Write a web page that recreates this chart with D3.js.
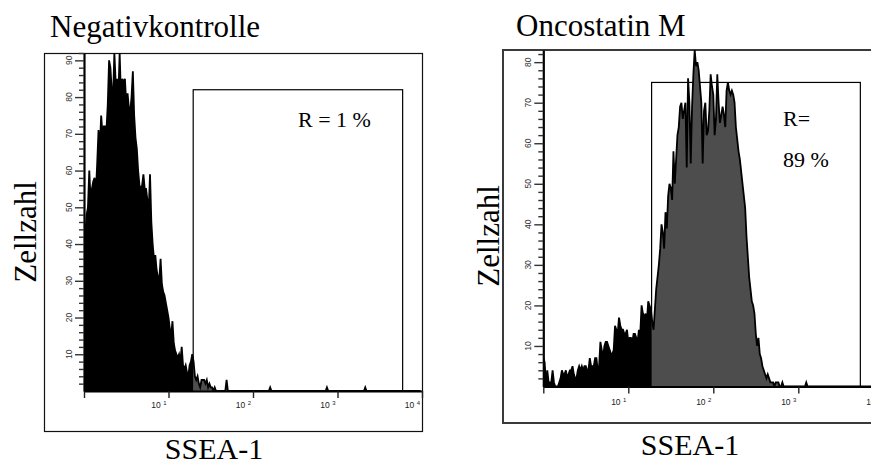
<!DOCTYPE html>
<html>
<head>
<meta charset="utf-8">
<script src="https://cdn.jsdelivr.net/npm/d3@7"></script>
<style>
body { margin: 0; background: #fff; }
svg { display: block; }
</style>
</head>
<body>
<svg id="chart" width="871" height="465"></svg>
<script>
var titles = ["Negativkontrolle", "Oncostatin M"]
var xTitle = "SSEA-1"
var yTitle = "Zellzahl"
var decadeLabels = [[10, "1"], [100, "2"], [1000, "3"], [10000, "4"]]
var channelsPerDecade = 64,
decades = 4

// Negativkontrolle: counts from channel 0 on, and single events further right
var negCounts = [45,43,48,50,60,52,55,57,58,54,
62,71,66,75,70,72,72,71,78,90,
88,82,80,92,84,85,80,92,80,85,
84,85,78,81,77,76,80,87,75,69,
66,60,56,55,56,59,55,55,52,49,
59,46,40,36,37,33,31,30,36,29,
27,26,24,22,20,17,15,19,13,11,
10,9,10,8,12,7,6,7,5,4,
7,8,10,8,4,3,4,2,1,3,
3,3,2,3,1,2,1,1,0,1,0]
var negSpikes = [[108, 3], [141, 1], [184, 1], [213, 1]]
var negGate = [19.6, 5900, 82]
var negLabel = ["R = 1 %"]

// Oncostatin M
var oncoCounts = [7,6,1,4,1,1,1,4,1,0,
0,0,1,2,4,3,3,4,2,3,
4,4,5,3,2,2,4,5,4,5,
4,5,5,4,4,7,5,5,5,7,
7,4,5,11,9,7,10,11,11,10,
9,8,8,9,15,14,13,17,15,14,
14,13,13,14,11,12,12,11,13,13,
12,11,14,13,20,18,17,18,16,21,
20,19,16,14,19,24,27,30,34,40,
38,34,43,39,47,50,49,46,58,50,
56,62,64,69,70,66,68,70,54,76,
70,55,69,77,83,79,80,78,74,70,
55,68,70,62,63,68,77,74,72,62,
66,77,70,65,67,69,67,64,73,75,
73,72,73,72,70,64,61,58,56,53,
50,47,44,37,32,27,24,21,20,18,
13,10,12,8,7,5,4,3,2,3,
2,1,1,1,0,1,1,1,0,0,1,0]
var oncoSpikes = [[198, 1]]
var oncoGate = [18.8, 5370, 75]
var oncoLabel = ["R=", "89 %"]

var panels = [
  {counts: negCounts, spikes: negSpikes, gate: negGate, label: negLabel, yMax: 92,
   frame: [44.5, 53.5, 378, 378], frameStroke: "#111", frameWidth: 1.2,
   left: 84, right: 422, bottom: 391, top: 53, tickY: 408,
   titlePos: [50, 36.5], xTitlePos: [214, 459], yTitlePos: [36, 232], labelPos: [298, 127]},
  {counts: oncoCounts, spikes: oncoSpikes, gate: oncoGate, label: oncoLabel, yMax: 83,
   frame: [503, 50, 400, 373], frameStroke: "#3a3a3a", frameWidth: 2,
   left: 543.3, right: 883.3, bottom: 386.5, top: 50, tickY: 405,
   titlePos: [516, 36], xTitlePos: [690, 455], yTitlePos: [499, 236], labelPos: [783, 126]}
]

var svg = d3.select("#chart")
var defs = svg.append("defs")

function chanValue(c){ return Math.pow(10, c / channelsPerDecade) }

panels.forEach(function(p, i){
  var x = d3.scaleLog().domain([1, Math.pow(10, decades)]).range([p.left, p.right])
  var y = d3.scaleLinear().domain([0, p.yMax]).range([p.bottom, p.top])

  var n = d3.range(decades * channelsPerDecade).map(function(c){
    return c < p.counts.length ? p.counts[c] : 0
  })
  p.spikes.forEach(function(s){ n[s[0]] = s[1] })
  var pts = n.map(function(v, c){ return {c: c, n: v} })

  var g = svg.append("g")

  g.append("rect")
  .attr("x", p.frame[0]).attr("y", p.frame[1])
  .attr("width", p.frame[2]).attr("height", p.frame[3])
  .attr("fill", "none")
  .attr("stroke", p.frameStroke)
  .attr("stroke-width", p.frameWidth)

  // gate region, behind the histogram
  g.append("rect")
  .attr("x", x(p.gate[0]))
  .attr("y", y(p.gate[2]))
  .attr("width", x(p.gate[1]) - x(p.gate[0]))
  .attr("height", y(0) - y(p.gate[2]))
  .attr("fill", "none")
  .attr("stroke", "#000")
  .attr("stroke-width", 1.2)

  defs.append("clipPath").attr("id", "out" + i)
  .append("rect")
  .attr("x", p.left).attr("y", p.top)
  .attr("width", x(p.gate[0]) - p.left).attr("height", p.bottom - p.top)
  defs.append("clipPath").attr("id", "in" + i)
  .append("rect")
  .attr("x", x(p.gate[0])).attr("y", p.top)
  .attr("width", p.right - x(p.gate[0])).attr("height", p.bottom - p.top)
  defs.append("clipPath").attr("id", "plot" + i)
  .append("rect")
  .attr("x", p.left).attr("y", p.top)
  .attr("width", p.right - p.left).attr("height", p.bottom - p.top + 1)

  var area = d3.area()
  .x(function(d){ return x(chanValue(d.c)) })
  .y0(y(0))
  .y1(function(d){ return y(d.n) })

  var line = d3.line()
  .x(function(d){ return x(chanValue(d.c)) })
  .y(function(d){ return y(d.n) })

  g.append("path").attr("d", area(pts)).attr("fill", "#000").attr("clip-path", "url(#out" + i + ")")
  g.append("path").attr("d", area(pts)).attr("fill", "#4d4d4d").attr("clip-path", "url(#in" + i + ")")
  g.append("path").attr("d", line(pts))
  .attr("fill", "none").attr("stroke", "#000").attr("stroke-width", 1.8)
  .attr("stroke-linejoin", "miter")
  .attr("clip-path", "url(#plot" + i + ")")

  // x axis
  var majors = [1, 10, 100, 1000, 10000]
  var xAxis = g.append("g")
  .attr("transform", "translate(0," + p.bottom + ")")
  .call(d3.axisBottom(x).ticks(4).tickSizeInner(4).tickSizeOuter(0).tickFormat(""))
  xAxis.select(".domain").attr("stroke", "#000").attr("stroke-width", 2.2)
  xAxis.selectAll(".tick line")
  .attr("stroke", "#222").attr("stroke-width", 1.4)
  .attr("y2", function(d){ return majors.indexOf(d) >= 0 ? 7 : 4 })

  var lab = g.selectAll(".xlab").data(decadeLabels).enter().append("text")
  .attr("class", "xlab")
  .attr("x", function(d){ return x(d[0]) - 2 })
  .attr("y", p.tickY)
  .attr("text-anchor", "end")
  .style("font-family", "Liberation Sans, Arial, sans-serif")
  .style("font-size", "8.5px")
  .attr("fill", "#222")
  lab.append("tspan").text("10 ")
  lab.append("tspan").attr("dy", -3).style("font-size", "6px").text(function(d){ return d[1] })

  // y axis
  var yAxis = g.append("g")
  .attr("transform", "translate(" + p.left + ",0)")
  .call(d3.axisLeft(y).tickValues(d3.range(2, p.yMax + 0.01, 2)).tickSizeInner(5).tickSizeOuter(0).tickFormat(""))
  yAxis.select(".domain").attr("stroke", "#000").attr("stroke-width", 2.2)
  yAxis.selectAll(".tick line")
  .attr("stroke", "#333").attr("stroke-width", 1.4)
  .attr("x2", function(d){ return d % 10 == 0 ? -9 : -5 })

  g.selectAll(".ylab").data(d3.range(10, p.yMax, 10)).enter().append("text")
  .attr("transform", function(d){ return "translate(" + (p.left - 12) + "," + y(d) + ") rotate(-90)" })
  .attr("text-anchor", "middle")
  .style("font-family", "Liberation Sans, Arial, sans-serif")
  .style("font-size", "8.5px")
  .attr("fill", "#333")
  .text(function(d){ return d })

  // titles
  g.append("text")
  .attr("x", p.titlePos[0]).attr("y", p.titlePos[1])
  .style("font-family", "Liberation Serif, Times New Roman, serif")
  .style("font-size", "31px")
  .text(titles[i])

  g.append("text")
  .attr("x", p.xTitlePos[0]).attr("y", p.xTitlePos[1])
  .attr("text-anchor", "middle")
  .style("font-family", "Liberation Serif, Times New Roman, serif")
  .style("font-size", "30px")
  .text(xTitle)

  g.append("text")
  .attr("transform", "translate(" + p.yTitlePos[0] + "," + p.yTitlePos[1] + ") rotate(-90)")
  .attr("text-anchor", "middle")
  .style("font-family", "Liberation Serif, Times New Roman, serif")
  .style("font-size", "31px")
  .text(yTitle)

  g.selectAll(".rlab").data(p.label).enter().append("text")
  .attr("x", p.labelPos[0])
  .attr("y", function(d, k){ return p.labelPos[1] + k * 40.7 })
  .style("font-family", "Liberation Serif, Times New Roman, serif")
  .style("font-size", "22px")
  .text(function(d){ return d })
})
</script>
</body>
</html>
